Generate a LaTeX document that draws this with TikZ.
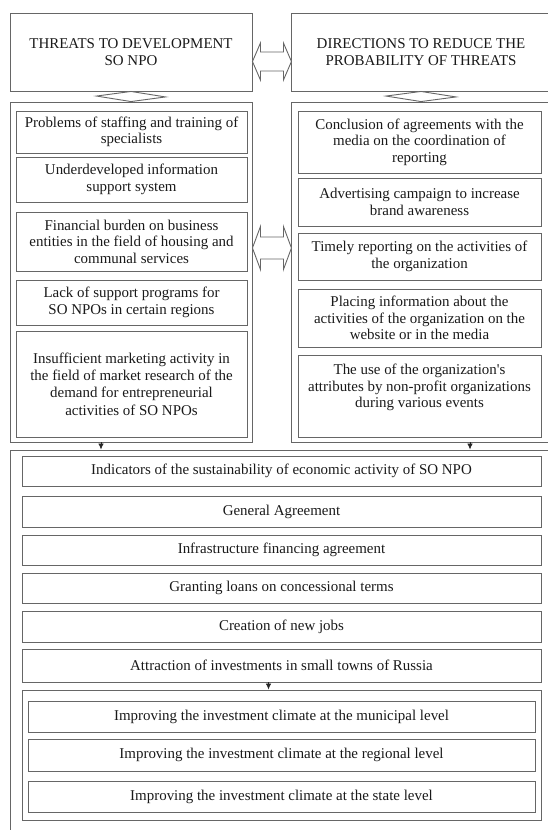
\documentclass[tikz,border=0pt]{standalone}
\usepackage{fontspec}
\setmainfont{Liberation Serif}
\usetikzlibrary{arrows.meta}

\begin{document}
\begin{tikzpicture}[
  box/.style={draw=black!60,line width=0.9bp,align=center,inner sep=0pt,text=black!90,font=\fontsize{15}{16.5}\selectfont},
  frame/.style={draw=black!60,line width=0.9bp,inner sep=0pt},
  hollow/.style={draw=black!60,line width=0.9bp,fill=white,line join=miter},
  link/.style={-{Latex[length=6bp,width=5.5bp]},draw=black!85,line width=0.8bp}]
\useasboundingbox (0,0) rectangle (548bp,-830bp);

% headers
\node (TL) at (131bp,-52bp)[box,minimum width=242bp,minimum height=78bp,font=\fontsize{15}{17}\selectfont] {THREATS TO DEVELOPMENT\\SO NPO};
\node (TR) at (421bp,-52bp)[box,minimum width=260bp,minimum height=78bp,font=\fontsize{15}{17}\selectfont] {DIRECTIONS TO REDUCE THE\\PROBABILITY OF THREATS};

% containers
\node (LC) at (131bp,-272bp)[frame,minimum width=242bp,minimum height=340bp] {};
\node (RC) at (421bp,-272bp)[frame,minimum width=260bp,minimum height=340bp] {};
\node (BC) at (280.5bp,-645bp)[frame,minimum width=541bp,minimum height=390bp] {};
\node (IC) at (281.5bp,-755bp)[frame,minimum width=519bp,minimum height=130bp] {};

% threats
\node (T1) at (131.5bp,-132bp)[box,minimum width=231bp,minimum height=42bp] {Problems of staffing and training of\\specialists};
\node (T2) at (131.5bp,-179.5bp)[box,minimum width=231bp,minimum height=45bp] {Underdeveloped information\\support system};
\node (T3) at (131.5bp,-241.5bp)[box,minimum width=231bp,minimum height=59bp] {Financial burden on business\\entities in the field of housing and\\communal services};
\node (T4) at (131.5bp,-302.5bp)[box,minimum width=231bp,minimum height=45bp] {Lack of support programs for\\SO NPOs in certain regions};
\node (T5) at (131.5bp,-384bp)[box,minimum width=231bp,minimum height=106bp,font=\fontsize{15}{17.5}\selectfont] {Insufficient marketing activity in\\the field of market research of the\\demand for entrepreneurial\\activities of SO NPOs};

% directions
\node (D1) at (419.5bp,-142bp)[box,minimum width=243bp,minimum height=62bp] {Conclusion of agreements with the\\media on the coordination of\\reporting};
\node (D2) at (419.5bp,-202bp)[box,minimum width=243bp,minimum height=48bp] {Advertising campaign to increase\\brand awareness};
\node (D3) at (419.5bp,-256.5bp)[box,minimum width=243bp,minimum height=47bp] {Timely reporting on the activities of\\the organization};
\node (D4) at (419.5bp,-318bp)[box,minimum width=243bp,minimum height=58bp] {Placing information about the\\activities of the organization on the\\website or in the media};
\node (D5) at (419.5bp,-396bp)[box,minimum width=243bp,minimum height=82bp,text depth=20bp] {The use of the organization\textquotesingle s\\attributes by non-profit organizations\\during various events};

% indicators
\node (I1) at (281.5bp,-471bp)[box,minimum width=519bp,minimum height=30bp] {Indicators of the sustainability of economic activity of SO NPO};
\node (I2) at (281.5bp,-511.5bp)[box,minimum width=519bp,minimum height=31bp] {General Agreement};
\node (I3) at (281.5bp,-550bp)[box,minimum width=519bp,minimum height=30bp] {Infrastructure financing agreement};
\node (I4) at (281.5bp,-588bp)[box,minimum width=519bp,minimum height=30bp] {Granting loans on concessional terms};
\node (I5) at (281.5bp,-626.5bp)[box,minimum width=519bp,minimum height=31bp] {Creation of new jobs};
\node (I6) at (281.5bp,-665.5bp)[box,minimum width=519bp,minimum height=33bp] {Attraction of investments in small towns of Russia};

% levels
\node (L1) at (281.5bp,-716.5bp)[box,minimum width=507bp,minimum height=31bp] {Improving the investment climate at the municipal level};
\node (L2) at (281.5bp,-755bp)[box,minimum width=507bp,minimum height=32bp] {Improving the investment climate at the regional level};
\node (L3) at (281.5bp,-796.5bp)[box,minimum width=507bp,minimum height=31bp] {Improving the investment climate at the state level};

% two-way arrows
\draw [hollow] (TL.east) ++(0,-9.5bp) -- ++(8bp,18.5bp) -- ++(0,-9bp) -- ++(23bp,0) -- ++(0,9bp) -- ++(8bp,-18.5bp) -- ++(-8bp,-18.5bp) -- ++(0,9bp) -- ++(-23bp,0) -- ++(0,-9bp) -- cycle;
\draw [hollow] (LC.east) ++(0,24bp) -- ++(8bp,21.5bp) -- ++(0,-10.5bp) -- ++(23bp,0) -- ++(0,10.5bp) -- ++(8bp,-21.5bp) -- ++(-8bp,-21.5bp) -- ++(0,10.5bp) -- ++(-23bp,0) -- ++(0,-10.5bp) -- cycle;
\draw [hollow] (TL.south) -- ++(34.5bp,-5.5bp) -- (LC.north) -- ++(-34.5bp,5.5bp) -- cycle;
\draw [hollow] (TR.south) -- ++(35bp,-5.5bp) -- (RC.north) -- ++(-35bp,5.5bp) -- cycle;

% down arrows
\draw [link] ([xshift=-30bp]LC.south) -- ([xshift=-30bp]LC.south |- BC.north);
\draw [link] ([xshift=49bp]RC.south) -- ([xshift=49bp]RC.south |- BC.north);
\draw [link] ([xshift=-13bp]I6.south) -- ([xshift=-13bp]I6.south |- IC.north);
\end{tikzpicture}
\end{document}
